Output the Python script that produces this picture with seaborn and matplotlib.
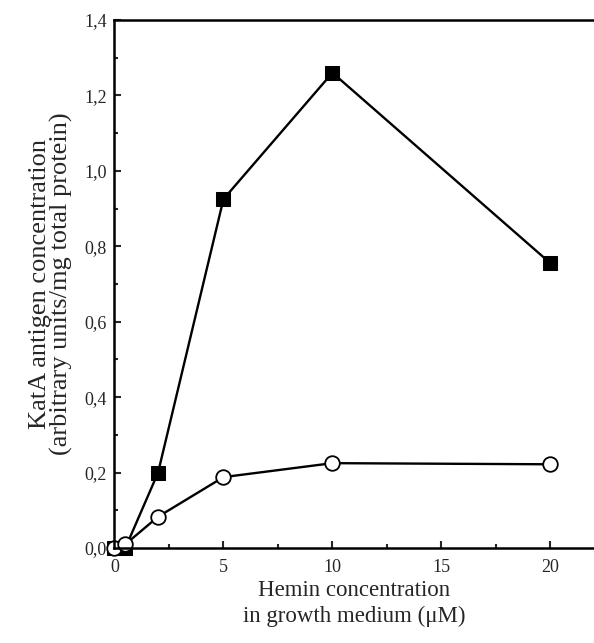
import matplotlib
matplotlib.use('Agg')
import matplotlib.pyplot as plt
from matplotlib.ticker import MultipleLocator, FuncFormatter
import seaborn as sns
import pandas as pd

# hemin concentration (uM) and KatA antigen levels for the two series
hemin = [0, 0.5, 2, 5, 10, 20]
squares = [0.0, 0.0, 0.20, 0.925, 1.26, 0.755]
circles = [0.0, 0.01, 0.083, 0.188, 0.225, 0.222]

sns.set_style('ticks')
plt.rcParams['font.family'] = ['Liberation Serif', 'DejaVu Serif']

fig = plt.figure(figsize=(5.94, 6.43), dpi=100)
ax = fig.add_axes([0.192, 0.1477, 0.808, 0.8213])

df_sq = pd.DataFrame({'x': hemin, 'y': squares})
df_ci = pd.DataFrame({'x': hemin, 'y': circles})

sns.lineplot(data=df_sq, x='x', y='y', ax=ax, color='black', lw=1.7, clip_on=False,
			 marker='s', markersize=10, markerfacecolor='black', markeredgecolor='black')
sns.lineplot(data=df_ci, x='x', y='y', ax=ax, color='black', lw=1.7, clip_on=False,
			 marker='o', markersize=10.5, markerfacecolor='white', markeredgecolor='black',
			 markeredgewidth=1.3)

ax.set_xticks([0, 5, 10, 15, 20])
ax.xaxis.set_minor_locator(MultipleLocator(2.5))
ax.yaxis.set_major_locator(MultipleLocator(0.2))
ax.yaxis.set_minor_locator(MultipleLocator(0.1))
ax.yaxis.set_major_formatter(FuncFormatter(lambda v, p: ('%.1f' % v).replace('.', ',')))
ax.xaxis.set_major_formatter(FuncFormatter(lambda v, p: '%d' % v))
ax.set_xlim(-0.02, 22.0)
ax.set_ylim(0, 1.4)

ax.tick_params(which='both', direction='in', width=1.5, labelsize=13, pad=5)
ax.tick_params(axis='x', which='both', pad=8)
ax.tick_params(which='major', length=5)
ax.tick_params(which='minor', length=3)
ax.tick_params(top=False, right=False, which='both')

for side in ['left', 'bottom', 'top']:
	ax.spines[side].set_linewidth(1.8)
	ax.spines[side].set_color('black')
ax.spines['right'].set_visible(False)

ax.set_xlabel('Hemin concentration\nin growth medium (\u03bcM)', fontsize=16.5, labelpad=3,
			  linespacing=1.3)
ax.set_ylabel('KatA antigen concentration\n(arbitrary units/mg total protein)', fontsize=19, labelpad=8,
			  linespacing=0.95)

fig.savefig('out.png', dpi=100)
